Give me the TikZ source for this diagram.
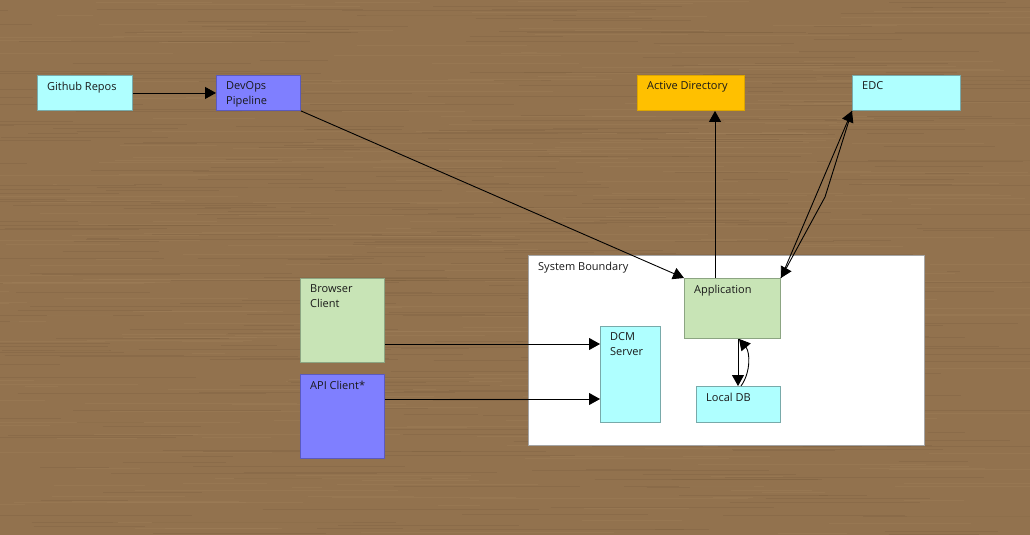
\documentclass[tikz,border=0pt]{standalone}
\usepackage{fontspec}
\setmainfont{Open Sans}
\usetikzlibrary{arrows.meta}
\definecolor{bgbrown}{RGB}{146,114,78}
\definecolor{bgdark}{RGB}{122,94,62}
\definecolor{bglight}{RGB}{162,130,92}
\definecolor{cyanfill}{RGB}{175,255,255}
\definecolor{cyanline}{RGB}{120,170,170}
\definecolor{bluefill}{RGB}{127,127,255}
\definecolor{blueline}{RGB}{90,90,190}
\definecolor{orangefill}{RGB}{255,192,0}
\definecolor{orangeline}{RGB}{220,165,0}
\definecolor{greenfill}{RGB}{200,228,182}
\definecolor{greenline}{RGB}{140,165,130}
\definecolor{sysline}{RGB}{165,165,165}
\tikzset{
  box/.style={draw, line width=0.9pt, anchor=north west, inner sep=0pt},
  cyanbox/.style={box, fill=cyanfill, draw=cyanline},
  bluebox/.style={box, fill=bluefill, draw=blueline},
  orangebox/.style={box, fill=orangefill, draw=orangeline},
  greenbox/.style={box, fill=greenfill, draw=greenline},
  lbl/.style={anchor=north west, inner sep=0pt, align=left, font=\fontsize{11pt}{15pt}\selectfont, text=black!90},
  arr/.style={draw=black, line width=0.9pt, -{Triangle[length=11pt,width=12pt]}},
}
\newcommand{\mkbox}[7]{% style, name, x, y, w, h, text
  \node[#1, minimum width=#5pt, minimum height=#6pt] (#2) at (#3,#4) {};
  \node[lbl] (#2-t) at ([shift={(10,6.5)}]#2.north west) {#7};
}
\begin{document}
\begin{tikzpicture}[x=1pt,y=-1pt]
\fill[bgbrown] (0,0) rectangle (1030,535);
\useasboundingbox (0,0) rectangle (1030,535);
% texture
\pgfmathsetseed{7}
\foreach \i in {1,...,700}{
  \pgfmathsetmacro{\yy}{rnd*535}
  \pgfmathsetmacro{\xa}{rnd*1030-100}
  \pgfmathsetmacro{\ll}{30+rnd*250}
  \pgfmathsetmacro{\tp}{rnd}
  \ifdim\tp pt<0.55pt
    \draw[bgdark, line width=0.7pt, opacity=0.3] (\xa,\yy) -- ++(\ll,0);
  \else
    \draw[bglight, line width=0.7pt, opacity=0.35] (\xa,\yy) -- ++(\ll,0);
  \fi
}
% system boundary
\node[box, fill=white, draw=sysline, minimum width=396pt, minimum height=190pt] (sys) at (528,255) {};
\node[lbl] (sys-t) at ([shift={(10,6.5)}]sys.north west) {System Boundary};
% boxes
\mkbox{cyanbox}{gh}{37}{75}{95}{35}{Github Repos}
\mkbox{bluebox}{devops}{216}{75}{84}{35}{DevOps\\Pipeline}
\mkbox{orangebox}{ad}{637}{75}{107}{35}{Active Directory}
\mkbox{cyanbox}{edc}{852}{75}{108}{35}{EDC}
\mkbox{greenbox}{app}{684}{278}{96}{60}{Application}
\mkbox{cyanbox}{dcm}{600}{326}{60}{96}{DCM\\Server}
\mkbox{cyanbox}{db}{696}{386}{84}{36}{Local DB}
\mkbox{greenbox}{browser}{300}{278}{84}{84}{Browser\\Client}
\mkbox{bluebox}{api}{300}{374}{84}{84}{API Client*}
% connectors
\coordinate (yb) at (0,344);
\coordinate (ya) at (0,399);
\coordinate (bend) at (825,197);
\draw[arr] (gh) -- (devops);
\draw[arr] (devops.south east) -- (app.north west);
\draw[arr] ([xshift=31pt]app.north west) -- ([xshift=31pt]app.north west |- ad.south);
\draw[arr] (app.north east) -- (edc.south west);
\draw[arr] (edc.south west) -- (bend) -- (app.north east);
\draw[arr] (browser.east |- yb) -- (dcm.west |- yb);
\draw[arr] (api.east |- ya) -- (dcm.west |- ya);
\draw[arr] ([xshift=54pt]app.south west) -- ([xshift=54pt]app.south west |- db.north);
\draw[arr] ([xshift=45pt]db.north west) .. controls (751,372) and (750,352) .. ([xshift=55pt]app.south west);
\end{tikzpicture}
\end{document}
